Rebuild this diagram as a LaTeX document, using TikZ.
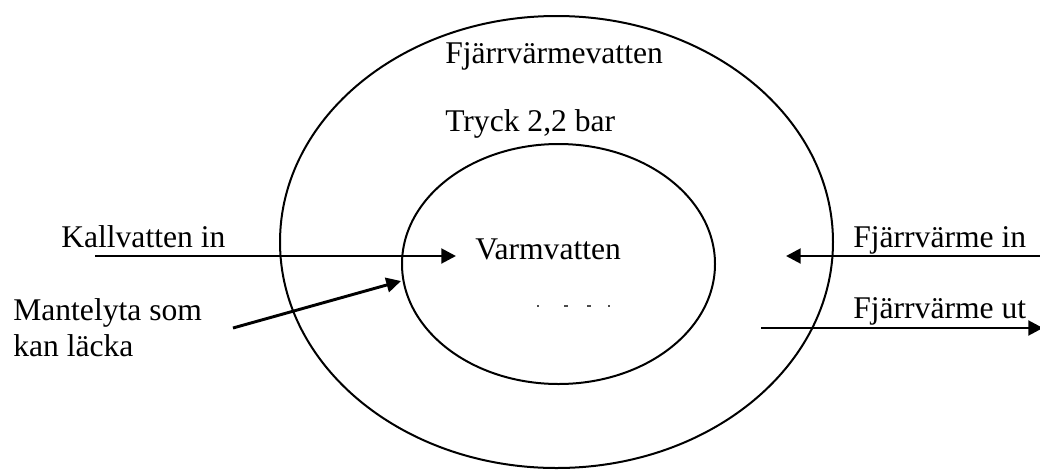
\documentclass[tikz,border=0pt]{standalone}
\usepackage{fontspec}
\setmainfont{Liberation Serif}
\usetikzlibrary{arrows.meta}
\tikzset{
  lbl/.style={inner sep=0pt, anchor=base west, font=\fontsize{23.7}{28}\selectfont},
  rim/.style={line width=1.5pt},
  flow/.style={line width=2.2pt, -{Triangle[length=11pt,width=11pt]}},
}
\begin{document}
\begin{tikzpicture}[x=0.75pt,y=-0.75pt]
  \useasboundingbox (0,0) rectangle (1040,469);
  % outer shell and inner tube
  \draw[rim] (556.5,242) ellipse [x radius=276.5, y radius=226];
  \draw[rim] (558.5,264) ellipse [x radius=156.5, y radius=120];
  % labels
  \node[lbl] (fjv)   at (445,63)  {Fjärrvärmevatten};
  \node[lbl] (tryck) at (445,131) {Tryck 2,2 bar};
  \node[lbl] (varm)  at (475,259) {Varmvatten};
  \node[lbl] (kall)  at (61,247)  {Kallvatten in};
  \node[lbl] (mant1) at (13,320)  {Mantelyta som};
  \node[lbl] (mant2) at (13,356)  {kan läcka};
  \node[lbl] (fvin)  at (853,247) {Fjärrvärme in};
  \node[lbl] (fvut)  at (853,318) {Fjärrvärme ut};
  % arrow ends
  \coordinate (kv-a) at (95,256);
  \coordinate (kv-b) at (456,256);
  \coordinate (ml-a) at (233,328);
  \coordinate (ml-b) at (401,281);
  \coordinate (in-a) at (1045,256);
  \coordinate (in-b) at (786,256);
  \coordinate (ut-a) at (761,328);
  \coordinate (ut-b) at (1043,328);
  \draw[flow] (kv-a) -- (kv-b);
  \draw[flow] (ml-a) -- (ml-b);
  \draw[flow] (in-a) -- (in-b);
  \draw[flow] (ut-a) -- (ut-b);
  % leftover specks
  \foreach \x/\w in {538/2,566/4,589/4,609/2}
    \draw[line width=1pt, black!70] (\x-\w/2,306) -- (\x+\w/2,306);
\end{tikzpicture}
\end{document}
